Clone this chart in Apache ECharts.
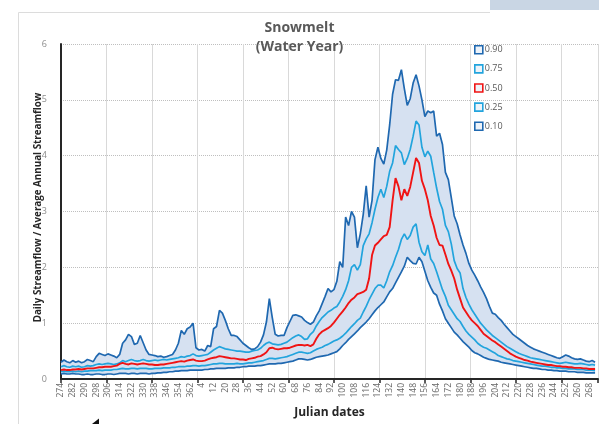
<!DOCTYPE html>
<html><head><meta charset="utf-8">
<script src="https://cdn.jsdelivr.net/npm/echarts@6/dist/echarts.min.js"></script>
<style>html,body{margin:0;padding:0;background:#fff}#c{width:599px;height:424px}</style>
</head><body><div id="c"></div>
<script>
// Water-year Julian day categories (leap year: 274..366 then 1..273)
const julianDays = [];
for (let d = 274; d <= 366; d++) julianDays.push(d);
for (let d = 1; d <= 273; d++) julianDays.push(d);
const LABEL_EVERY = 8;
const tickLabels = julianDays.filter((d, i) => i % LABEL_EVERY === 0);
const STEP = 2; // values below are read every 2 days from day 274

const legendNames = ['0.90', '0.75', '0.50', '0.25', '0.10'];

const p90 = [
0.30,0.34,0.31,0.29,0.33,0.30,0.32,0.29,0.31,0.35,
0.33,0.31,0.40,0.46,0.44,0.42,0.45,0.43,0.41,0.38,
0.44,0.64,0.70,0.80,0.76,0.62,0.64,0.78,0.65,0.52,
0.44,0.43,0.42,0.40,0.41,0.39,0.40,0.42,0.44,0.52,
0.64,0.87,0.80,0.90,0.93,1.00,0.56,0.52,0.53,0.50,
0.60,0.58,0.90,0.94,1.23,1.18,1.05,0.90,0.78,0.78,
0.76,0.70,0.64,0.60,0.56,0.53,0.54,0.58,0.66,0.79,
1.02,1.44,1.10,0.80,0.77,0.78,0.78,0.92,1.03,1.14,
1.15,1.13,1.11,1.05,1.01,0.98,1.02,1.13,1.22,1.35,
1.48,1.62,1.56,1.60,1.75,2.10,2.00,2.90,2.75,3.00,
2.90,2.35,2.60,2.95,3.46,2.90,3.20,3.93,4.15,3.95,
3.85,4.10,4.55,5.10,5.36,5.35,5.54,5.20,4.90,5.02,
5.30,5.45,5.25,5.00,4.70,4.80,4.77,4.80,4.35,4.40,
4.20,3.70,3.57,3.25,2.92,2.78,2.58,2.40,2.25,2.07,
1.95,1.86,1.76,1.65,1.55,1.44,1.30,1.18,1.16,1.10,
1.05,0.98,0.92,0.86,0.80,0.76,0.72,0.68,0.64,0.60,
0.57,0.54,0.52,0.50,0.48,0.46,0.44,0.42,0.40,0.38,
0.37,0.40,0.43,0.41,0.38,0.36,0.35,0.36,0.34,0.32,
0.31,0.33,0.30];

const p75 = [
0.22,0.24,0.22,0.21,0.23,0.22,0.23,0.21,0.22,0.24,
0.23,0.24,0.26,0.27,0.26,0.27,0.28,0.27,0.26,0.27,
0.29,0.33,0.31,0.33,0.35,0.33,0.32,0.33,0.35,0.33,
0.32,0.33,0.34,0.33,0.34,0.35,0.34,0.35,0.36,0.37,
0.38,0.40,0.39,0.41,0.42,0.45,0.42,0.41,0.42,0.43,
0.44,0.48,0.52,0.55,0.58,0.56,0.54,0.53,0.52,0.51,
0.50,0.50,0.49,0.48,0.48,0.50,0.51,0.52,0.55,0.60,
0.64,0.66,0.63,0.62,0.61,0.62,0.64,0.66,0.70,0.74,
0.77,0.79,0.76,0.71,0.72,0.80,0.85,0.95,1.03,1.10,
1.15,1.20,1.23,1.27,1.30,1.38,1.48,1.60,1.76,2.00,
2.05,1.95,2.05,2.39,2.51,2.60,2.80,3.04,3.25,3.40,
3.25,3.45,3.72,3.87,4.18,4.11,4.05,3.84,3.95,4.11,
4.35,4.62,4.55,4.15,3.98,4.08,3.99,3.70,3.42,3.18,
3.04,2.75,2.64,2.42,2.12,1.98,1.90,1.62,1.46,1.34,
1.24,1.16,1.08,1.00,0.94,0.88,0.83,0.78,0.74,0.70,
0.66,0.62,0.58,0.55,0.52,0.49,0.46,0.44,0.42,0.40,
0.38,0.37,0.36,0.35,0.34,0.33,0.32,0.31,0.30,0.29,
0.28,0.29,0.30,0.29,0.28,0.27,0.27,0.28,0.27,0.26,
0.25,0.26,0.25];

const p50 = [
0.16,0.17,0.16,0.16,0.17,0.17,0.18,0.17,0.18,0.19,
0.19,0.19,0.20,0.21,0.21,0.22,0.22,0.22,0.23,0.24,
0.27,0.29,0.27,0.26,0.28,0.27,0.26,0.27,0.28,0.27,
0.26,0.26,0.25,0.25,0.26,0.26,0.27,0.28,0.29,0.30,
0.31,0.32,0.31,0.33,0.34,0.35,0.33,0.32,0.32,0.33,
0.35,0.37,0.38,0.39,0.41,0.40,0.39,0.38,0.37,0.37,
0.36,0.35,0.35,0.34,0.36,0.37,0.38,0.40,0.41,0.44,
0.48,0.55,0.56,0.54,0.53,0.54,0.55,0.55,0.56,0.58,
0.60,0.61,0.61,0.60,0.61,0.59,0.62,0.72,0.80,0.85,
0.88,0.91,0.95,1.01,1.08,1.15,1.21,1.28,1.36,1.42,
1.46,1.52,1.54,1.56,1.60,1.80,2.22,2.39,2.44,2.50,
2.56,2.58,2.72,3.20,3.60,3.45,3.20,3.40,3.28,3.44,
3.70,3.96,3.87,3.55,3.40,3.20,2.92,2.75,2.53,2.40,
2.39,2.23,2.06,1.94,1.80,1.60,1.44,1.28,1.20,1.12,
1.05,1.00,0.95,0.88,0.81,0.77,0.73,0.69,0.66,0.62,
0.58,0.54,0.50,0.46,0.43,0.40,0.38,0.36,0.34,0.33,
0.31,0.30,0.29,0.28,0.27,0.26,0.25,0.25,0.24,0.23,
0.23,0.22,0.22,0.21,0.21,0.20,0.20,0.20,0.19,0.19,
0.18,0.18,0.18];

const p25 = [
0.13,0.14,0.13,0.13,0.14,0.13,0.14,0.13,0.14,0.14,
0.15,0.15,0.15,0.16,0.15,0.16,0.16,0.16,0.17,0.17,
0.18,0.19,0.18,0.18,0.19,0.19,0.18,0.19,0.19,0.19,
0.18,0.18,0.19,0.19,0.19,0.20,0.20,0.20,0.21,0.21,
0.22,0.22,0.22,0.23,0.23,0.24,0.24,0.23,0.24,0.24,
0.25,0.26,0.27,0.27,0.28,0.28,0.27,0.27,0.27,0.27,
0.28,0.27,0.27,0.28,0.29,0.29,0.30,0.31,0.32,0.33,
0.35,0.37,0.37,0.36,0.37,0.38,0.39,0.40,0.42,0.44,
0.46,0.48,0.48,0.47,0.46,0.47,0.50,0.53,0.55,0.57,
0.60,0.62,0.65,0.68,0.70,0.73,0.77,0.82,0.88,0.94,
0.99,1.05,1.09,1.20,1.30,1.42,1.52,1.62,1.68,1.68,
1.63,1.76,1.92,2.03,2.18,2.32,2.50,2.60,2.50,2.57,
2.72,2.78,2.45,2.28,2.21,2.40,2.15,2.07,1.92,1.76,
1.60,1.48,1.32,1.24,1.16,1.08,1.03,0.94,0.86,0.80,
0.75,0.70,0.64,0.60,0.57,0.55,0.52,0.49,0.46,0.42,
0.40,0.38,0.36,0.35,0.33,0.32,0.31,0.30,0.29,0.28,
0.27,0.26,0.25,0.24,0.23,0.23,0.22,0.21,0.21,0.20,
0.20,0.19,0.19,0.18,0.18,0.18,0.17,0.17,0.17,0.16,
0.16,0.16,0.15];

const p10 = [
0.09,0.10,0.09,0.09,0.10,0.09,0.09,0.08,0.08,0.09,
0.08,0.08,0.09,0.09,0.08,0.08,0.09,0.09,0.08,0.09,
0.10,0.10,0.10,0.09,0.10,0.10,0.09,0.10,0.10,0.10,
0.09,0.10,0.10,0.11,0.11,0.12,0.12,0.13,0.13,0.14,
0.14,0.15,0.15,0.15,0.16,0.16,0.16,0.16,0.16,0.17,
0.17,0.18,0.18,0.19,0.19,0.19,0.19,0.20,0.20,0.20,
0.21,0.21,0.22,0.22,0.23,0.23,0.23,0.24,0.24,0.25,
0.26,0.27,0.27,0.27,0.28,0.28,0.29,0.30,0.31,0.32,
0.34,0.36,0.36,0.35,0.34,0.35,0.37,0.39,0.40,0.41,
0.42,0.43,0.45,0.47,0.49,0.54,0.60,0.65,0.71,0.76,
0.81,0.86,0.92,0.97,1.02,1.08,1.15,1.22,1.28,1.33,
1.38,1.47,1.56,1.62,1.72,1.82,1.92,2.02,2.18,2.12,
2.07,2.06,2.18,2.10,1.93,1.76,1.64,1.54,1.50,1.34,
1.22,1.08,1.00,0.92,0.84,0.79,0.73,0.67,0.62,0.57,
0.51,0.47,0.45,0.42,0.39,0.37,0.35,0.34,0.33,0.32,
0.30,0.29,0.28,0.27,0.26,0.25,0.24,0.23,0.22,0.21,
0.20,0.19,0.19,0.18,0.17,0.17,0.16,0.16,0.15,0.15,
0.14,0.14,0.14,0.13,0.13,0.13,0.12,0.12,0.12,0.11,
0.11,0.11,0.11];

const DARK = '#1f68b0', LIGHT = '#22a4dd', RED = '#f01414', FILL = '#d6e1f1';
const FONT = 'Open Sans';
const toPts = arr => arr.map((v, i) => [i * STEP, v]);

const lineSeries = (name, arr, color, width, z) => ({
  type: 'line', name, data: toPts(arr), symbol: 'none', showSymbol: false,
  lineStyle: { color, width }, itemStyle: { color }, z, silent: true
});

// band between the 0.10 and 0.90 curves, drawn through the axis scales
const bandRows = p90.map((v, i) => [i * STEP, p10[i], v]);
const bandSeries = {
  type: 'custom', name: 'band', data: bandRows, silent: true, z: 1,
  encode: { x: 0, y: [1, 2] },
  renderItem: (params, api) => {
    if (params.dataIndex !== 0) return null;
    const upper = bandRows.map(r => api.coord([r[0], r[2]]));
    const lower = bandRows.map(r => api.coord([r[0], r[1]])).reverse();
    return { type: 'polygon', shape: { points: upper.concat(lower) }, style: { fill: FILL } };
  }
};

const chart = echarts.init(document.getElementById('c'), null, { renderer: 'canvas' });
chart.setOption({
  animation: false,
  backgroundColor: '#fff',
  textStyle: { fontFamily: FONT },
  title: {
    text: 'Snowmelt\n(Water Year)', left: 'center', top: 14,
    textStyle: { fontSize: 14, fontWeight: 'bold', color: '#595959', lineHeight: 19, fontFamily: FONT }
  },
  legend: {
    orient: 'vertical', left: 474, top: 45, padding: 0, itemWidth: 8, itemHeight: 8, itemGap: 9.5,
    icon: 'rect', selectedMode: false,
    textStyle: { fontSize: 9, color: '#595959', fontFamily: FONT, padding: [0, 0, 0, -3] },
    data: legendNames.map((n, i) => ({
      name: n,
      itemStyle: { color: '#eef3f9', borderColor: [DARK, LIGHT, RED, LIGHT, DARK][i], borderWidth: 1.6 }
    }))
  },
  grid: { left: 61, right: 1, top: 44, bottom: 43 },
  xAxis: [{
    type: 'value', min: 0, max: julianDays.length, interval: LABEL_EVERY, position: 'bottom',
    axisLine: { show: true, lineStyle: { color: '#262626', width: 2 } },
    axisTick: { show: false }, splitLine: { show: false },
    axisLabel: {
      rotate: 90, fontSize: 8.5, color: '#666', margin: 4, showMaxLabel: false,
      formatter: v => (v % LABEL_EVERY === 0 && v / LABEL_EVERY < tickLabels.length) ? String(tickLabels[v / LABEL_EVERY]) : ''
    },
    name: 'Julian dates', nameLocation: 'middle', nameGap: 28, nameMoveOverlap: false,
    nameTextStyle: { fontSize: 12, fontWeight: 'bold', color: '#262626', fontFamily: FONT }
  }, {
    type: 'value', min: 0, max: julianDays.length, interval: 31, position: 'bottom',
    axisLine: { show: false },
    axisTick: { show: true, length: 4, lineStyle: { color: '#262626', width: 1.5 } },
    axisLabel: { show: false },
    splitLine: { show: true, lineStyle: { color: '#d9d9d9', width: 1 } }
  }],
  yAxis: {
    type: 'value', min: 0, max: 6, interval: 1,
    axisLine: { show: true, lineStyle: { color: '#262626', width: 2 } },
    axisTick: { show: false },
    axisLabel: { fontSize: 9, color: '#8c8c8c', margin: 14 },
    splitLine: { lineStyle: { color: '#bfbfbf', type: 'dotted' } },
    name: 'Daily Streamflow / Average Annual Streamflow', nameLocation: 'middle', nameGap: 18,
    nameMoveOverlap: false,
    nameTextStyle: { fontSize: 9.8, fontWeight: 'bold', color: '#262626', fontFamily: FONT, padding: [0, 0, 0, 8] }
  },
  series: [
    bandSeries,
    lineSeries('0.10', p10, DARK, 1.7, 3),
    lineSeries('0.25', p25, LIGHT, 1.7, 3),
    lineSeries('0.75', p75, LIGHT, 1.7, 3),
    lineSeries('0.90', p90, DARK, 1.7, 3),
    lineSeries('0.50', p50, RED, 1.9, 4)
  ],
  graphic: [
    { type: 'line', shape: { x1: 18.5, y1: 12.5, x2: 490, y2: 12.5 }, style: { stroke: '#dcdcdc', lineWidth: 1 }, silent: true },
    { type: 'line', shape: { x1: 18.5, y1: 12.5, x2: 18.5, y2: 424 }, style: { stroke: '#dcdcdc', lineWidth: 1 }, silent: true },
    { type: 'rect', shape: { x: 490, y: 0, width: 109, height: 10 }, style: { fill: '#c9d6e4' }, silent: true },
    { type: 'polygon', shape: { points: [[92, 424], [99, 418.5], [99, 424]] }, style: { fill: '#111' }, silent: true }
  ]
});
</script></body></html>
